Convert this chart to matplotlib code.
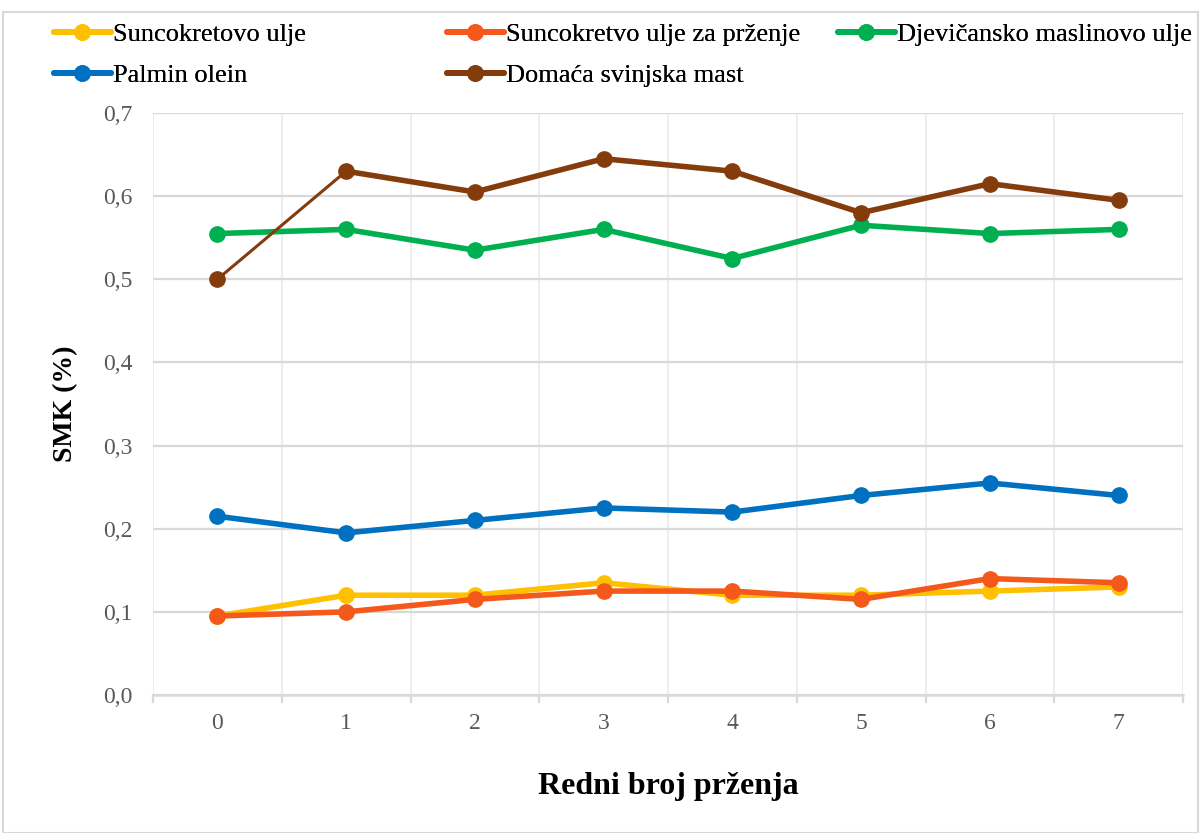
import matplotlib
matplotlib.use("Agg")
import matplotlib.pyplot as plt
from matplotlib.lines import Line2D
from matplotlib.patches import Rectangle
import numpy as np

x_vals = [0, 1, 2, 3, 4, 5, 6, 7]
x_labels = ["0", "1", "2", "3", "4", "5", "6", "7"]
suncokretovo = [0.095, 0.12, 0.12, 0.135, 0.12, 0.12, 0.125, 0.13]
suncokretovo_przenje = [0.095, 0.10, 0.115, 0.125, 0.125, 0.115, 0.14, 0.135]
djevicansko = [0.555, 0.56, 0.535, 0.56, 0.525, 0.565, 0.555, 0.56]
palmin = [0.215, 0.195, 0.21, 0.225, 0.22, 0.24, 0.255, 0.24]
svinjska = [0.50, 0.63, 0.605, 0.645, 0.63, 0.58, 0.615, 0.595]
y_ticks = [0.0, 0.1, 0.2, 0.3, 0.4, 0.5, 0.6, 0.7]
y_tick_labels = ["0,0", "0,1", "0,2", "0,3", "0,4", "0,5", "0,6", "0,7"]

series = [
    ("Suncokretovo ulje", suncokretovo, "#FFC000"),
    ("Suncokretvo ulje za prženje", suncokretovo_przenje, "#F4581A"),
    ("Djevičansko maslinovo ulje", djevicansko, "#00B050"),
    ("Palmin olein", palmin, "#0070C0"),
    ("Domaća svinjska mast", svinjska, "#843C0C"),
]

plt.rcParams['font.family'] = ['Liberation Serif', 'DejaVu Serif']

fig = plt.figure(figsize=(12.01, 8.33), dpi=100)
ax = fig.add_axes([153/1201, 1-695/833, (1183-153)/1201, (695-113)/833])

LW = 4.0
MS = 11
handles = {}
for name, vals, col in series:
    if name == "Domaća svinjska mast":
        # first segment is drawn thinner in the original
        ax.plot(x_vals[:2], vals[:2], color=col, lw=2.2, solid_capstyle='round', zorder=3)
        ax.plot(x_vals[1:], vals[1:], color=col, lw=LW, solid_capstyle='round', zorder=3)
        ax.plot(x_vals, vals, color=col, lw=0, marker='o', markersize=MS, zorder=4)
    else:
        ax.plot(x_vals, vals, color=col, lw=LW, marker='o', markersize=MS,
                solid_capstyle='round', zorder=3)
    handles[name] = Line2D([], [], color=col, lw=4.2, marker='o', markersize=MS,
                           solid_capstyle='round')

ax.set_xlim(-0.5, 7.5)
ax.set_ylim(0, 0.7)
ax.set_yticks(y_ticks)
ax.set_yticklabels(y_tick_labels, fontsize=17)
ax.set_xticks(x_vals)
ax.set_xticklabels(x_labels, fontsize=17)
ax.set_xticks(np.arange(-0.5, 7.6, 0.5), minor=True)

ax.grid(axis='y', which='major', color='#d9d9d9', lw=1.6, zorder=0)
ax.grid(axis='x', which='minor', color='#ececec', lw=1.3, zorder=0)
ax.tick_params(axis='y', length=0, pad=15, labelcolor='#595959')
ax.tick_params(axis='x', which='major', length=0, pad=13, labelcolor='#595959')
ax.tick_params(axis='x', which='minor', length=0)
for xb in np.arange(-0.5, 7.6, 1.0):
    ax.plot([xb, xb], [0, -0.009], color='#d9d9d9', lw=1.6, clip_on=False, zorder=1)

for s in ['top', 'right', 'left']:
    ax.spines[s].set_visible(False)
ax.spines['bottom'].set_color('#d9d9d9')
ax.spines['bottom'].set_linewidth(1.8)

ax.set_ylabel("SMK (%)", fontsize=20, fontweight='bold', labelpad=18)
ax.set_xlabel("Redni broj prženja", fontsize=23, fontweight='bold', labelpad=27)

leg_kw = dict(loc='upper left', frameon=False, fontsize=19, handlelength=2.15,
              handletextpad=0.1, labelspacing=0.65, borderpad=0, borderaxespad=0)
cols = [
    (["Suncokretovo ulje", "Palmin olein"], 54),
    (["Suncokretvo ulje za prženje", "Domaća svinjska mast"], 447),
    (["Djevičansko maslinovo ulje"], 838),
]
for names, xpix in cols:
    lg = fig.legend([handles[n] for n in names], names,
                    bbox_to_anchor=(xpix/1201, 1-23/833), **leg_kw)
    fig.add_artist(lg)

fig.patches.append(Rectangle((3/1201, 0), 1195/1201, 1-12/833, transform=fig.transFigure,
                             fill=False, edgecolor='#d9d9d9', lw=1.5))

fig.savefig("out.png", dpi=100)
